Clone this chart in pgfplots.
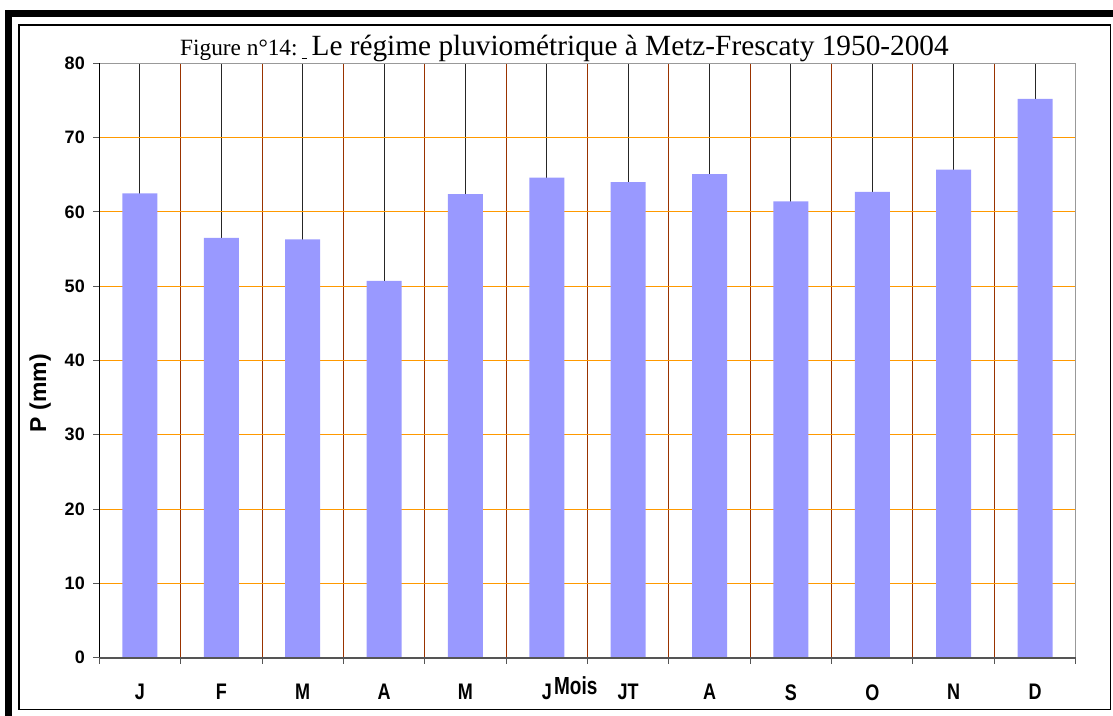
\documentclass[border=0pt]{standalone}
\usepackage{fontspec}
\setmainfont{Liberation Serif}
\newfontfamily\arial{Liberation Sans}
\usepackage{pgfplots}
\pgfplotsset{compat=1.18}
\definecolor{barblue}{HTML}{9999FF}
\definecolor{gridorange}{HTML}{FF9900}
\definecolor{sepbrown}{HTML}{993300}
\definecolor{axgray}{HTML}{999999}
\definecolor{axdark}{HTML}{555555}

\begin{document}
\begin{tikzpicture}[x=1pt,y=1pt]
\useasboundingbox (0,0) rectangle (1113,715);
% outer frame (cut by the page) and inner frame
\begin{scope}
  \clip (0,0) rectangle (1113,715);
  \draw[line width=6.5pt] (8.3,-20) -- (8.3,701.5) -- (1130,701.5);
\end{scope}
\draw[line width=1.3pt] (19,5.7) rectangle (1110.5,690);

\node[anchor=base west, inner sep=0pt] at (180,659)
  {\fontsize{23.3}{23}\selectfont Figure n°14:\hspace{4pt}\rule[-3pt]{5pt}{1pt}\hspace{5pt}\fontsize{29.3}{29}\selectfont Le régime pluviométrique à Metz-Frescaty 1950-2004};

\begin{axis}[
    at={(99.3pt,57.3pt)}, anchor=south west,
    scale only axis,
    width=976.4pt, height=594.4pt,
    xmin=-0.5, xmax=11.5, ymin=0, ymax=80,
    ybar, bar width=35pt,
    clip=false,
    xtick={0,...,11},
    xticklabels={J,F,M,A,M,J,JT,A,S,O,N,D},
    minor xtick={-0.5,0.5,...,11.5},
    ytick={0,10,...,80},
    xmajorgrids, xminorgrids, ymajorgrids,
    major x grid style={black!85, line width=1pt},
    minor x grid style={sepbrown, line width=1pt},
    y grid style={gridorange, line width=1pt},
    tick align=outside,
    xtick pos=left, ytick pos=left,
    major tick length=6pt, minor tick length=6pt,
    major x tick style={draw=none},
    tick style={color=axdark, line width=1pt},
    axis line style={draw=none},
    /pgf/number format/assume math mode=true,
    ticklabel style={font=\arial\bfseries\fontsize{18}{18}\selectfont},
    xticklabel style={yscale=1.25, yshift=-13pt},
    yticklabel style={xshift=-5pt},
    xlabel={Mois}, ylabel={P (mm)},
    xlabel style={font=\arial\bfseries\fontsize{19}{19}\selectfont, yscale=1.3,
                  at={(axis description cs:0.488,-0.047)}, anchor=center},
    ylabel style={font=\arial\bfseries\fontsize{23}{23}\selectfont,
                  at={(axis description cs:-0.0605,0.445)}, anchor=center},
]
\addplot[fill=barblue, draw=none] coordinates {
    (0,62.5) (1,56.5) (2,56.3) (3,50.7) (4,62.4) (5,64.6)
    (6,64.0) (7,65.1) (8,61.4) (9,62.7) (10,65.7) (11,75.2)
};
\draw[axgray, line width=1.3pt] (rel axis cs:0,1) -- (rel axis cs:1,1) -- (rel axis cs:1,0);
\draw[black, line width=1pt] (rel axis cs:0,0) -- (rel axis cs:0,1);
\draw[axdark, line width=2pt] (rel axis cs:0,0) -- (rel axis cs:1,0);
\end{axis}
\end{tikzpicture}
\end{document}
